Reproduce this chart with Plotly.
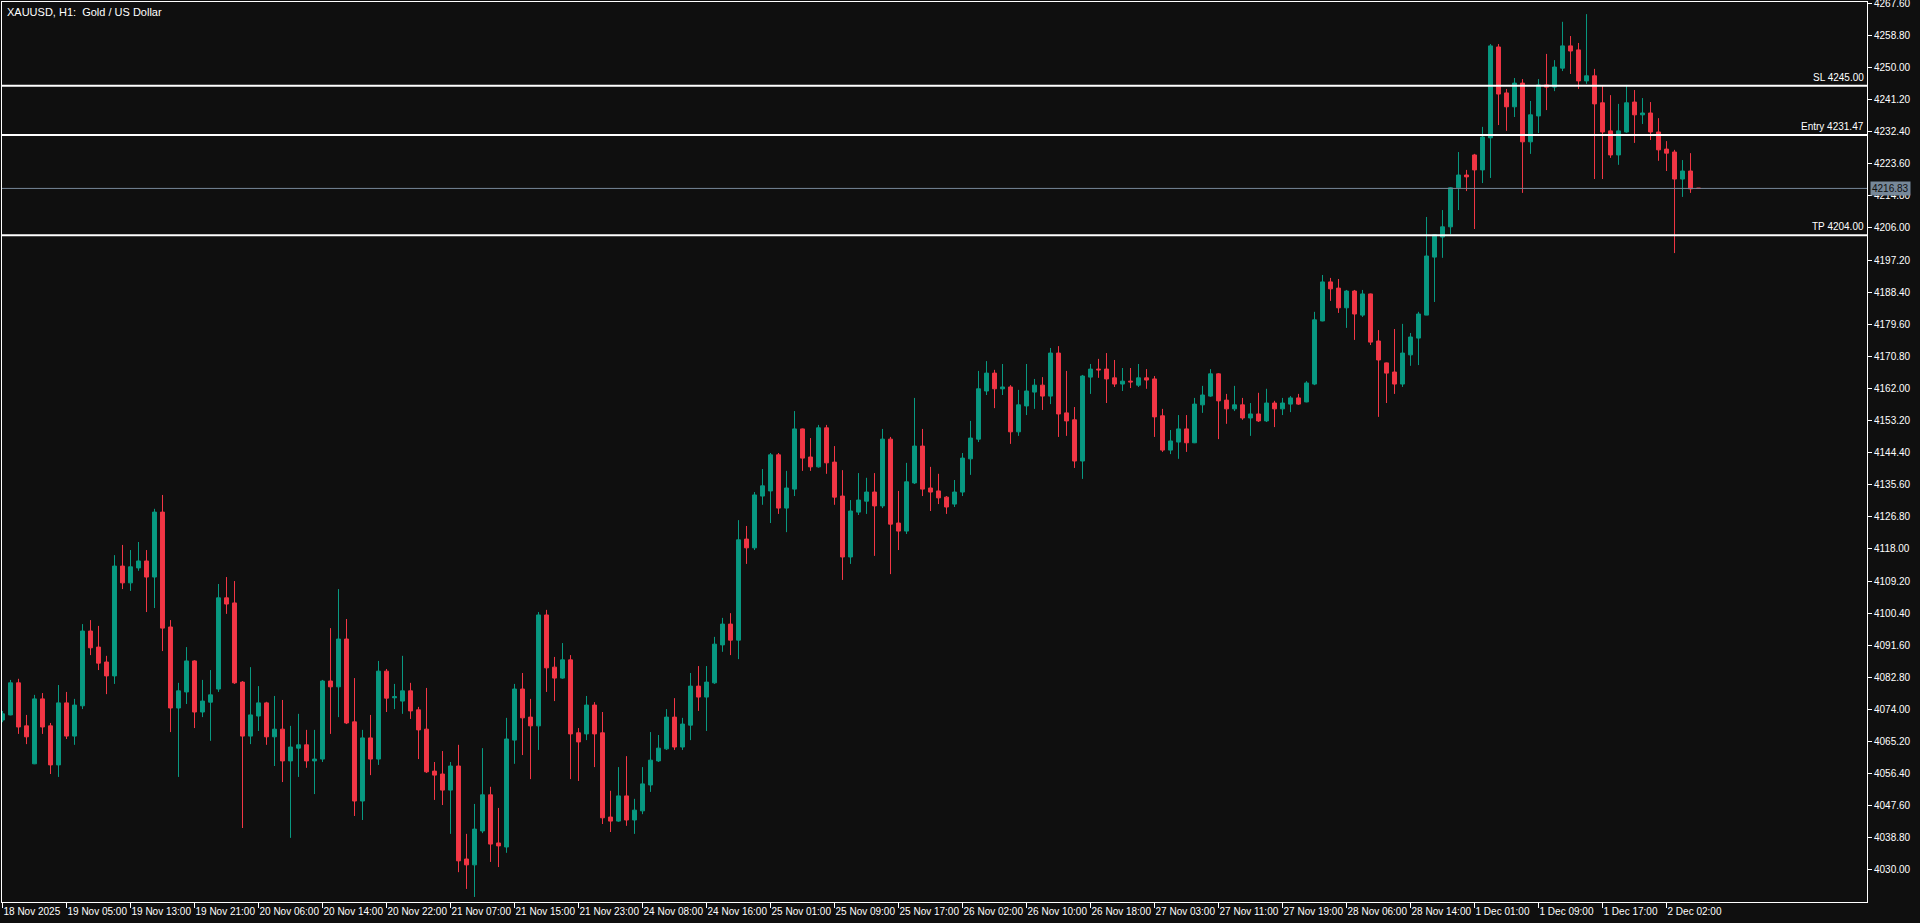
import plotly.graph_objects as go

# ---------------- data ----------------
opens = [
    4071.1, 4072.5, 4081.3, 4069.5, 4059.1, 4076.9, 4069.5, 4058.8, 4075.8, 4066.7,
    4075.0, 4095.5, 4091.1, 4087.0, 4083.2, 4113.3, 4108.7, 4112.8, 4114.7, 4110.3,
    4128.1, 4096.6, 4074.4, 4078.8, 4087.3, 4073.3, 4076.0, 4079.6, 4104.6, 4103.2,
    4081.5, 4066.7, 4072.2, 4075.8, 4066.5, 4068.6, 4059.9, 4063.4, 4064.3, 4059.9,
    4060.4, 4081.8, 4080.2, 4093.3, 4070.6, 4048.9, 4066.2, 4060.4, 4084.5, 4077.2,
    4076.3, 4079.1, 4073.9, 4068.6, 4057.1, 4056.3, 4051.9, 4058.5, 4033.0, 4031.4,
    4040.7, 4050.6, 4037.4, 4036.3, 4065.6, 4079.6, 4071.9, 4069.5, 4099.9, 4085.6,
    4082.6, 4087.6, 4067.6, 4067.3, 4075.2, 4067.6, 4044.5, 4043.4, 4050.3, 4043.7,
    4046.2, 4053.3, 4059.9, 4063.2, 4071.9, 4063.7, 4069.7, 4080.4, 4077.4, 4081.3,
    4091.7, 4097.4, 4093.0, 4120.7, 4118.3, 4132.5, 4133.9, 4143.8, 4129.2, 4134.4,
    4150.9, 4143.2, 4140.5, 4151.2, 4141.8, 4132.5, 4115.8, 4128.1, 4131.1, 4133.6,
    4129.8, 4148.1, 4125.1, 4122.9, 4136.1, 4146.2, 4134.7, 4133.9, 4132.2, 4130.3,
    4133.6, 4142.7, 4148.1, 4161.3, 4166.2, 4161.9, 4162.4, 4150.1, 4157.2, 4161.0,
    4162.9, 4159.9, 4171.7, 4155.3, 4153.4, 4142.1, 4165.1, 4167.3, 4167.3, 4164.9,
    4163.2, 4164.0, 4162.9, 4164.9, 4164.6, 4154.5, 4145.1, 4147.3, 4150.9, 4147.1,
    4157.5, 4159.9, 4166.0, 4158.8, 4156.4, 4157.5, 4153.9, 4155.0, 4153.1, 4158.0,
    4156.4, 4157.7, 4159.4, 4158.3, 4163.2, 4180.5, 4191.2, 4189.5, 4184.1, 4188.7,
    4182.1, 4187.9, 4175.0, 4169.0, 4166.5, 4163.2, 4171.2, 4175.8, 4182.1, 4198.0,
    4203.5, 4206.3, 4217.0, 4220.5, 4226.0, 4221.9, 4230.7, 4255.6, 4243.0, 4239.2,
    4245.7, 4229.6, 4236.7, 4245.2, 4244.6, 4249.8, 4255.9, 4254.8, 4246.3, 4247.7,
    4240.3, 4232.6, 4226.0, 4232.3, 4240.5, 4237.0, 4237.5, 4232.3, 4227.6, 4226.8,
    4219.4, 4221.6, 4216.9,
]
highs = [
    4073.6, 4082.1, 4082.4, 4072.5, 4078.0, 4078.5, 4070.3, 4080.7, 4078.8, 4076.9,
    4097.4, 4098.5, 4096.9, 4088.7, 4116.3, 4119.1, 4117.7, 4119.9, 4117.7, 4129.0,
    4132.8, 4098.5, 4081.3, 4091.1, 4087.5, 4082.1, 4084.8, 4108.4, 4110.3, 4109.2,
    4081.8, 4085.6, 4080.4, 4076.1, 4077.7, 4076.6, 4069.5, 4072.8, 4068.4, 4068.4,
    4082.1, 4096.3, 4107.0, 4098.8, 4082.6, 4068.4, 4072.5, 4087.3, 4085.1, 4081.0,
    4088.7, 4081.3, 4074.7, 4079.9, 4059.6, 4062.6, 4059.6, 4064.3, 4039.9, 4048.1,
    4063.4, 4052.8, 4047.0, 4071.7, 4081.0, 4084.0, 4076.9, 4100.7, 4101.3, 4088.4,
    4092.2, 4088.9, 4068.9, 4077.7, 4076.0, 4073.3, 4051.7, 4058.2, 4061.2, 4049.5,
    4058.2, 4067.8, 4067.0, 4074.1, 4077.1, 4071.7, 4084.0, 4085.9, 4085.9, 4093.9,
    4099.1, 4100.4, 4125.9, 4124.3, 4133.6, 4139.9, 4144.3, 4144.3, 4139.4, 4155.8,
    4151.0, 4148.4, 4152.0, 4152.0, 4146.2, 4139.6, 4131.4, 4138.8, 4137.5, 4138.8,
    4150.9, 4148.7, 4133.9, 4141.6, 4159.4, 4150.9, 4140.5, 4138.6, 4132.5, 4136.9,
    4144.3, 4153.1, 4166.8, 4169.5, 4167.1, 4168.7, 4162.9, 4161.6, 4168.7, 4164.6,
    4165.1, 4173.1, 4173.6, 4166.8, 4156.9, 4165.7, 4168.7, 4170.1, 4171.7, 4169.8,
    4167.6, 4167.6, 4168.7, 4167.3, 4165.4, 4156.4, 4150.6, 4154.7, 4154.7, 4159.4,
    4162.7, 4167.3, 4166.2, 4160.5, 4162.7, 4159.4, 4158.0, 4160.8, 4161.9, 4158.6,
    4159.4, 4159.9, 4160.5, 4164.0, 4183.0, 4193.1, 4192.3, 4192.0, 4189.0, 4189.0,
    4189.0, 4188.0, 4178.0, 4169.1, 4178.3, 4179.7, 4177.2, 4183.0, 4209.0, 4204.2,
    4210.9, 4217.2, 4226.8, 4221.9, 4226.3, 4233.7, 4256.4, 4256.4, 4244.1, 4247.1,
    4246.8, 4240.8, 4246.8, 4253.7, 4252.0, 4262.5, 4258.6, 4256.7, 4264.6, 4249.6,
    4244.9, 4242.4, 4240.0, 4245.2, 4243.8, 4241.6, 4240.5, 4236.1, 4229.8, 4227.4,
    4224.6, 4226.5, 4216.9,
]
lows = [
    4070.5, 4072.4, 4067.3, 4064.5, 4059.0, 4067.3, 4056.3, 4055.5, 4065.9, 4064.3,
    4074.1, 4088.9, 4084.8, 4078.2, 4081.0, 4107.0, 4106.5, 4112.0, 4100.7, 4101.8,
    4090.0, 4067.8, 4055.5, 4075.5, 4068.9, 4071.9, 4065.4, 4078.8, 4100.2, 4081.0,
    4041.5, 4064.5, 4068.1, 4064.3, 4058.5, 4054.1, 4038.8, 4055.5, 4058.0, 4050.8,
    4059.6, 4067.3, 4071.9, 4070.0, 4044.8, 4043.7, 4056.0, 4058.8, 4073.3, 4074.1,
    4072.8, 4071.4, 4060.4, 4056.6, 4049.2, 4047.8, 4039.9, 4029.4, 4024.8, 4022.6,
    4040.1, 4032.2, 4030.8, 4034.7, 4059.1, 4061.5, 4054.9, 4062.9, 4078.8, 4076.3,
    4082.4, 4054.9, 4054.4, 4065.6, 4058.2, 4042.6, 4040.4, 4043.2, 4042.1, 4039.9,
    4045.3, 4051.4, 4059.6, 4062.9, 4062.9, 4062.9, 4065.6, 4073.6, 4068.1, 4081.0,
    4089.8, 4088.9, 4087.8, 4113.9, 4117.7, 4130.1, 4125.1, 4127.6, 4122.6, 4132.5,
    4139.4, 4139.4, 4140.3, 4138.6, 4130.1, 4109.5, 4113.9, 4127.3, 4127.6, 4116.1,
    4129.2, 4111.1, 4117.7, 4122.1, 4135.8, 4132.5, 4128.4, 4130.3, 4127.6, 4129.5,
    4132.5, 4138.3, 4147.3, 4160.2, 4156.6, 4160.2, 4146.8, 4149.0, 4154.7, 4156.4,
    4156.1, 4157.7, 4148.7, 4149.0, 4140.2, 4137.2, 4160.5, 4164.9, 4158.0, 4162.4,
    4161.3, 4162.1, 4162.4, 4161.9, 4148.7, 4144.6, 4144.0, 4142.7, 4144.6, 4147.0,
    4155.3, 4159.7, 4148.1, 4152.3, 4155.8, 4153.4, 4149.0, 4152.8, 4152.8, 4151.4,
    4154.7, 4155.5, 4157.5, 4158.2, 4162.9, 4180.4, 4186.0, 4182.7, 4178.6, 4175.3,
    4181.6, 4173.9, 4154.2, 4158.0, 4160.5, 4162.4, 4168.2, 4168.4, 4182.1, 4185.7,
    4197.8, 4204.3, 4210.9, 4216.1, 4205.7, 4218.3, 4219.7, 4234.2, 4232.6, 4236.4,
    4215.6, 4226.3, 4232.0, 4238.3, 4243.5, 4249.0, 4248.2, 4244.1, 4245.5, 4219.4,
    4219.4, 4225.2, 4223.3, 4232.1, 4229.3, 4234.5, 4230.1, 4224.4, 4221.6, 4199.1,
    4214.5, 4215.6, 4216.8,
]
closes = [
    4072.8, 4081.3, 4069.2, 4066.5, 4076.9, 4069.2, 4058.8, 4075.8, 4066.7, 4075.2,
    4095.5, 4090.9, 4086.7, 4083.2, 4113.3, 4108.7, 4113.1, 4114.7, 4110.3, 4128.1,
    4096.3, 4074.4, 4079.1, 4087.3, 4073.3, 4076.3, 4078.0, 4104.6, 4102.9, 4081.3,
    4066.7, 4072.5, 4075.8, 4066.5, 4068.6, 4059.9, 4063.7, 4064.3, 4059.9, 4060.4,
    4081.8, 4080.2, 4093.3, 4070.3, 4048.9, 4066.2, 4060.4, 4084.5, 4077.1, 4077.5,
    4079.1, 4073.6, 4068.4, 4056.9, 4056.0, 4051.9, 4058.5, 4032.5, 4031.4, 4041.2,
    4050.6, 4037.1, 4036.6, 4065.9, 4079.6, 4071.7, 4069.5, 4099.9, 4085.4, 4082.6,
    4087.6, 4067.3, 4065.1, 4075.2, 4067.3, 4044.3, 4043.4, 4050.3, 4043.7, 4046.4,
    4053.6, 4060.1, 4063.4, 4071.9, 4063.7, 4070.0, 4080.4, 4077.4, 4081.5, 4091.9,
    4097.4, 4093.0, 4120.5, 4118.3, 4132.8, 4135.3, 4143.8, 4129.2, 4134.7, 4150.9,
    4142.9, 4140.5, 4151.2, 4141.6, 4132.2, 4115.8, 4128.4, 4131.4, 4133.6, 4129.8,
    4148.1, 4124.8, 4122.9, 4136.4, 4146.2, 4134.4, 4133.6, 4132.0, 4129.5, 4133.6,
    4142.9, 4148.4, 4161.9, 4166.2, 4161.9, 4162.4, 4150.1, 4157.5, 4161.3, 4162.9,
    4159.9, 4171.7, 4155.0, 4153.1, 4142.1, 4165.4, 4167.3, 4167.1, 4164.6, 4163.2,
    4164.0, 4163.8, 4164.9, 4164.3, 4154.2, 4145.1, 4147.6, 4150.9, 4147.1, 4157.7,
    4160.2, 4166.0, 4158.6, 4156.4, 4157.5, 4153.9, 4155.0, 4153.1, 4158.0, 4156.4,
    4158.0, 4159.4, 4157.7, 4163.5, 4180.8, 4191.2, 4189.3, 4184.1, 4188.7, 4182.4,
    4187.9, 4174.7, 4169.8, 4166.2, 4163.2, 4171.7, 4176.1, 4182.4, 4198.3, 4204.1,
    4206.3, 4217.0, 4220.5, 4220.0, 4221.9, 4230.9, 4255.9, 4242.7, 4239.2, 4245.7,
    4229.6, 4237.0, 4245.2, 4244.6, 4250.1, 4255.9, 4254.5, 4246.3, 4247.7, 4240.0,
    4232.3, 4226.0, 4232.6, 4240.3, 4237.0, 4237.5, 4232.3, 4227.4, 4226.5, 4219.4,
    4221.6, 4216.7, 4216.83,
]
bar_index = list(range(len(opens)))

tick_bars = [0, 8, 16, 24, 32, 40, 48, 56, 64, 72, 80, 88, 96, 104, 112, 120,
             128, 136, 144, 152, 160, 168, 176, 184, 192, 200, 208]
tick_labels = [
    "18 Nov 2025", "19 Nov 05:00", "19 Nov 13:00", "19 Nov 21:00", "20 Nov 06:00",
    "20 Nov 14:00", "20 Nov 22:00", "21 Nov 07:00", "21 Nov 15:00", "21 Nov 23:00",
    "24 Nov 08:00", "24 Nov 16:00", "25 Nov 01:00", "25 Nov 09:00", "25 Nov 17:00",
    "26 Nov 02:00", "26 Nov 10:00", "26 Nov 18:00", "27 Nov 03:00", "27 Nov 11:00",
    "27 Nov 19:00", "28 Nov 06:00", "28 Nov 14:00", "1 Dec 01:00", "1 Dec 09:00",
    "1 Dec 17:00", "2 Dec 02:00",
]
price_ticks = [4030.0, 4038.8, 4047.6, 4056.4, 4065.2, 4074.0, 4082.8, 4091.6,
               4100.4, 4109.2, 4118.0, 4126.8, 4135.6, 4144.4, 4153.2, 4162.0,
               4170.8, 4179.6, 4188.4, 4197.2, 4206.0, 4214.8, 4223.6, 4232.4,
               4241.2, 4250.0, 4258.8, 4267.6]

level_names = ["SL", "Entry", "TP"]
level_values = [4245.00, 4231.47, 4204.00]
current_price = 4216.83

# ---------------- styling ----------------
BG = "#0f0f0f"
UP = "#089981"
DOWN = "#f23645"
FG = "#ffffff"
FONT = "Liberation Sans"

fig = go.Figure()
fig.add_trace(go.Candlestick(
    x=bar_index, open=opens, high=highs, low=lows, close=closes,
    increasing=dict(line=dict(color=UP, width=1), fillcolor=UP),
    decreasing=dict(line=dict(color=DOWN, width=1), fillcolor=DOWN),
    whiskerwidth=0, showlegend=False, hoverinfo="skip",
))

shapes = []
annotations = []
for name, val in zip(level_names, level_values):
    shapes.append(dict(type="line", xref="paper", x0=0, x1=1, yref="y", y0=val, y1=val,
                       line=dict(color=FG, width=2), layer="above"))
    annotations.append(dict(xref="paper", x=1, xanchor="right", xshift=-1,
                            yref="y", y=val, yanchor="bottom", yshift=1,
                            text=f"{name} {val:.2f}", showarrow=False,
                            font=dict(family=FONT, size=10, color=FG)))

shapes.append(dict(type="line", xref="paper", x0=0, x1=1, yref="y",
                   y0=current_price, y1=current_price,
                   line=dict(color="#778899", width=1), layer="above"))
annotations.append(dict(xref="paper", x=1, xanchor="left", xshift=3,
                        yref="y", y=current_price, yanchor="middle",
                        text=f"{current_price:.2f}", showarrow=False,
                        bgcolor="#778899", borderpad=1,
                        font=dict(family=FONT, size=10, color="#0f0f0f")))
annotations.append(dict(xref="paper", x=0, xanchor="left", xshift=3,
                        yref="paper", y=1, yanchor="top", yshift=-2,
                        text="XAUUSD, H1:  Gold / US Dollar", showarrow=False,
                        font=dict(family=FONT, size=11, color=FG)))

fig.update_layout(
    width=1920, height=923,
    paper_bgcolor=BG, plot_bgcolor=BG,
    margin=dict(l=2, r=53, t=2, b=21, autoexpand=False),
    font=dict(family=FONT, size=10, color=FG),
    shapes=shapes, annotations=annotations,
    hovermode=False,
    xaxis=dict(
        range=[-0.0625, 233.06], rangeslider=dict(visible=False),
        showgrid=False, zeroline=False, automargin=False,
        showline=True, linecolor=FG, linewidth=1, mirror=True,
        tickmode="array", tickvals=tick_bars, ticktext=tick_labels,
        ticks="outside", ticklen=5, tickcolor=FG, tickwidth=1,
        tickangle=0,
        ticklabelposition="outside right",
        tickfont=dict(family=FONT, size=10, color=FG),
    ),
    yaxis=dict(
        range=[4021.22, 4267.93], side="right",
        showgrid=False, zeroline=False, automargin=False,
        showline=True, linecolor=FG, linewidth=1, mirror=True,
        tickmode="array", tickvals=price_ticks,
        ticktext=[f"{v:.2f}" for v in price_ticks],
        ticks="outside", ticklen=4, tickcolor=FG, tickwidth=1,
        ticklabeloverflow="allow",
        tickfont=dict(family=FONT, size=10, color=FG),
    ),
)

fig.write_html(
    "out.html",
    config={"displayModeBar": False},
    post_script="document.body.style.margin='0px';document.body.style.background='#0f0f0f';",
)
